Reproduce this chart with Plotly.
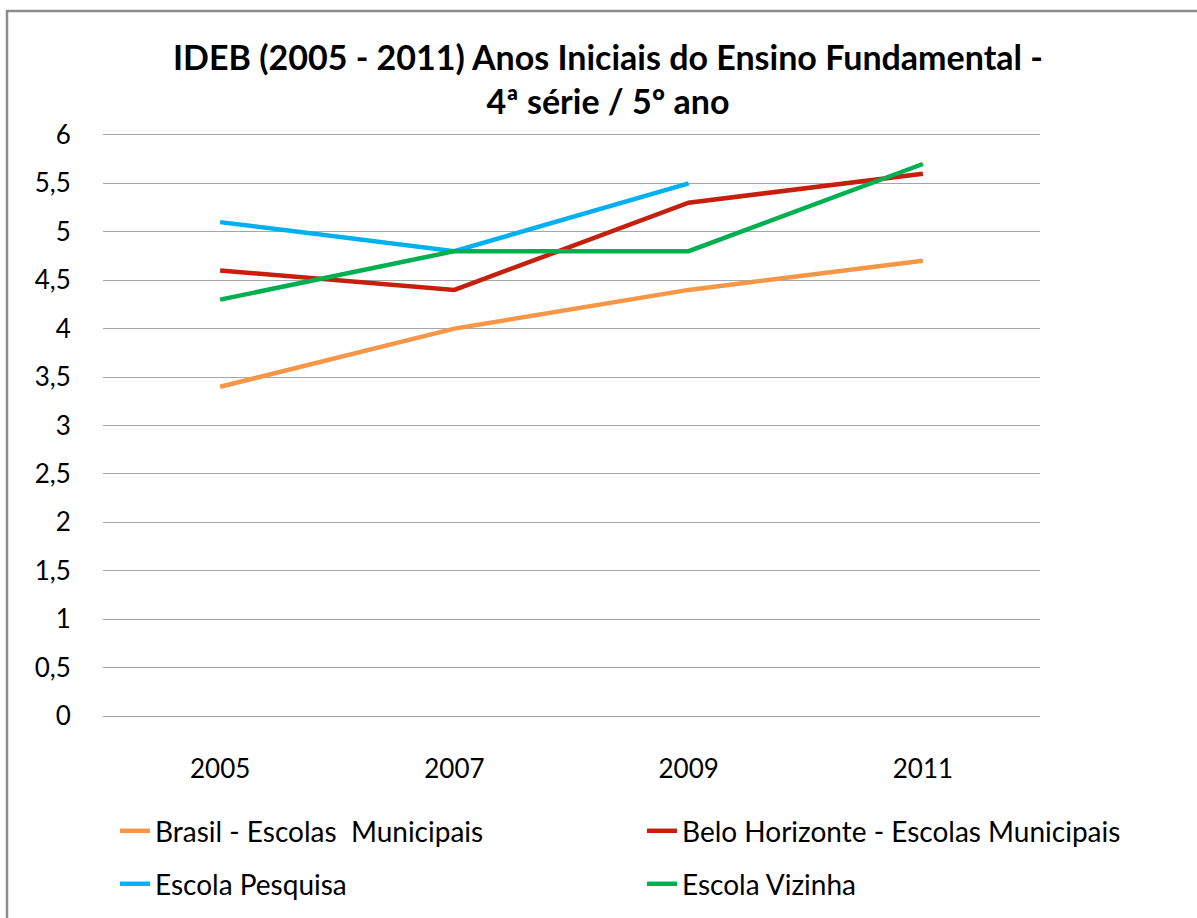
import plotly.graph_objects as go

years = ["2005", "2007", "2009", "2011"]
brasil = [3.4, 4.0, 4.4, 4.7]
bh = [4.6, 4.4, 5.3, 5.6]
pesquisa = [5.1, 4.8, 5.5, None]
vizinha = [4.3, 4.8, 4.8, 5.7]

names = ["Brasil - Escolas  Municipais", "Belo Horizonte - Escolas Municipais",
         "Escola Pesquisa", "Escola Vizinha"]
colors = ["#F79646", "#C4200C", "#00B0F0", "#00B050"]
series = [brasil, bh, pesquisa, vizinha]
legends = ["legend", "legend2", "legend3", "legend4"]

W, H = 1197, 918
PAD = 0.02
UNIT = (716 - 135) / 6.0
L, R = 103, 1040
T = 135 - PAD * UNIT
B = 716 + PAD * UNIT
FONT = "Lato"

fig = go.Figure()
for n, c, s, lg in zip(names, colors, series, legends):
    fig.add_trace(go.Scatter(x=years, y=s, name=n, mode="lines",
                             line=dict(color=c, width=4.5),
                             legend=lg, connectgaps=False, showlegend=True))

def px2x(px):
    return (px - L) / (R - L)

def py2y(py):
    return (B - py) / (B - T)

def leg(xpx, ypx):
    return dict(orientation="h", x=px2x(xpx), y=py2y(ypx), yanchor="middle", xanchor="left",
                font=dict(family=FONT, size=28, color="#000000"),
                bgcolor="rgba(0,0,0,0)", borderwidth=0, visible=True)

fig.update_layout(
    width=W, height=H,
    showlegend=True,
    margin=dict(l=L, r=W - R, t=T, b=H - B, autoexpand=False),
    paper_bgcolor="white", plot_bgcolor="white",
    separators=", ",
    font=dict(family=FONT, size=26, color="#000000"),
    title=dict(text="<b>IDEB (2005 - 2011) Anos Iniciais do Ensino Fundamental -<br>4ª série / 5º ano</b>",
               x=608 / W, xanchor="center", xref="container",
               y=1 - 70 / H, yanchor="top", yref="container",
               font=dict(family=FONT, size=34, color="#000000")),
    xaxis=dict(type="category", range=[-0.5, 3.5], showgrid=False, showline=False,
               zeroline=False, ticks="outside", ticklen=28, tickcolor="rgba(0,0,0,0)",
               tickfont=dict(size=26)),
    yaxis=dict(range=[-PAD, 6 + PAD], tickvals=[i * 0.5 for i in range(13)],
               showgrid=True, gridcolor="#A6A6A6", gridwidth=1.3,
               showline=False, zeroline=False, ticks="outside", ticklen=26,
               tickcolor="rgba(0,0,0,0)", tickfont=dict(size=26)),
    legend=leg(115, 831),
    legend2=leg(642, 831),
    legend3=leg(115, 884),
    legend4=leg(642, 884),
    shapes=[dict(type="rect", xref="paper", yref="paper",
                 x0=px2x(7), x1=px2x(1230), y0=py2y(950), y1=py2y(11),
                 line=dict(color="#8C8C8C", width=2.5), fillcolor="rgba(0,0,0,0)", layer="below")],
)

fig.write_html("out.html", config={"displayModeBar": False},
               post_script="document.body.style.margin='0';document.body.style.overflow='hidden';")
